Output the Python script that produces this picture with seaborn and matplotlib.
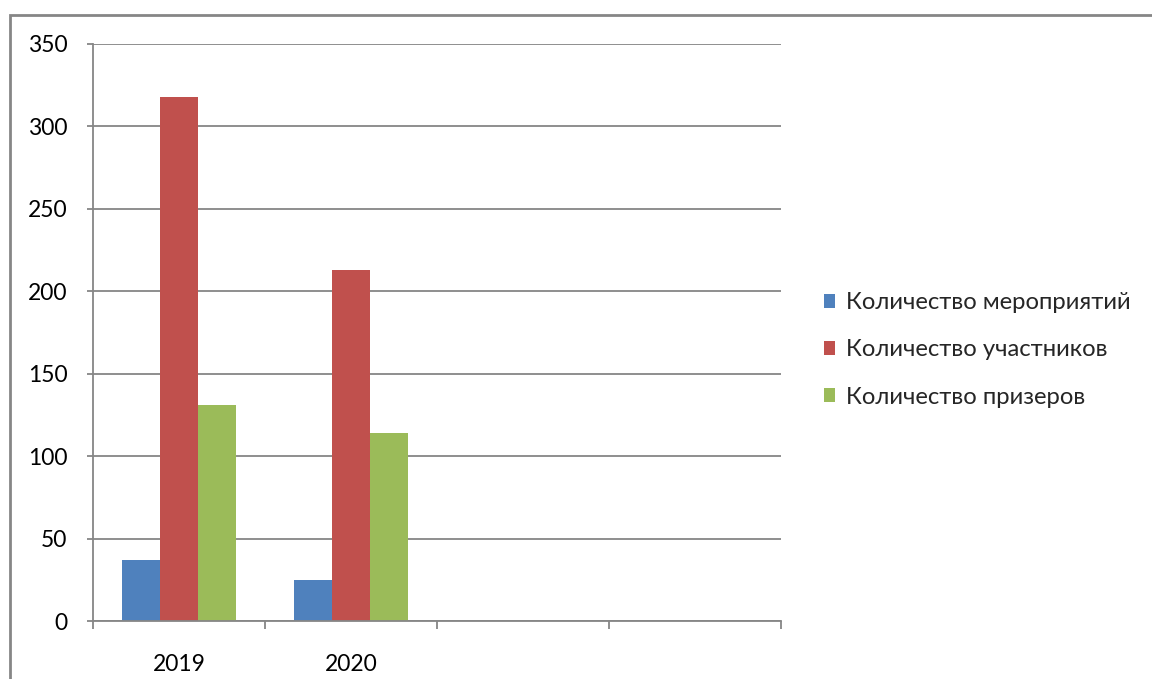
import matplotlib
matplotlib.use("Agg")
import matplotlib.pyplot as plt
from matplotlib.patches import Rectangle
import pandas as pd
import seaborn as sns

YEARS = ["2019", "2020"]
SERIES = ["Количество мероприятий", "Количество участников", "Количество призеров"]
EVENTS = [37, 25]
PARTICIPANTS = [318, 213]
WINNERS = [131, 114]
COLORS = ["#4F81BD", "#C0504D", "#9BBB59"]
N_SLOTS = 4  # excel kept two empty categories on the axis

sns.set_theme(style="white")
plt.rcParams["font.family"] = ["Lato", "Noto Sans", "DejaVu Sans"]

rows = []
for name, vals in zip(SERIES, [EVENTS, PARTICIPANTS, WINNERS]):
    for year, v in zip(YEARS, vals):
        rows.append({"year": year, "series": name, "value": v})
df = pd.DataFrame(rows)

fig = plt.figure(figsize=(11.52, 6.79), dpi=100)
ax = fig.add_axes([93 / 1152, 1 - 621 / 679, (781 - 93) / 1152, (621 - 44) / 679])

sns.barplot(data=df, x="year", y="value", hue="series", order=YEARS, hue_order=SERIES,
            palette=COLORS, saturation=1, width=0.663, gap=0, linewidth=0, ax=ax)

grey = "#868686"
ax.set_xlim(-0.5, N_SLOTS - 0.5)
ax.set_ylim(0, 350)
ax.set_yticks(range(0, 351, 50))
ax.yaxis.grid(True, color=grey, linewidth=1.3)
ax.set_axisbelow(True)
for side in ["top", "right"]:
    ax.spines[side].set_visible(False)
for side in ["left", "bottom"]:
    ax.spines[side].set_color(grey)
    ax.spines[side].set_linewidth(1.3)

# boundary ticks, labels centred on the categories
ax.set_xticks([i - 0.5 for i in range(N_SLOTS + 1)])
ax.set_xticklabels([])
ax.set_xticks(range(len(YEARS)), minor=True)
ax.set_xticklabels(YEARS, minor=True)
ax.tick_params(axis="x", which="major", length=6, width=1.3, color=grey, direction="out", bottom=True)
ax.tick_params(axis="x", which="minor", length=0, pad=24, labelsize=16.5, colors="black")
ax.tick_params(axis="y", length=4.5, width=1.3, color=grey, direction="out", left=True,
               pad=14, labelsize=16.5, labelcolor="black")
ax.set_xlabel("")
ax.set_ylabel("")

handles, labels = ax.get_legend_handles_labels()
ax.legend(handles, labels, loc="center left", bbox_to_anchor=(802 / 1152, 1 - 350 / 679),
          bbox_transform=fig.transFigure, frameon=False, fontsize=17.2,
          handlelength=0.5, handleheight=0.5, handletextpad=0.45, labelspacing=1.1)

# outer chart frame running off the canvas
fig.patches.append(Rectangle((10 / 1152, -0.05), 1.2, 1 - 15 / 679 + 0.05,
                             transform=fig.transFigure, fill=False,
                             edgecolor=grey, linewidth=2))

fig.savefig("out.png", dpi=100)
